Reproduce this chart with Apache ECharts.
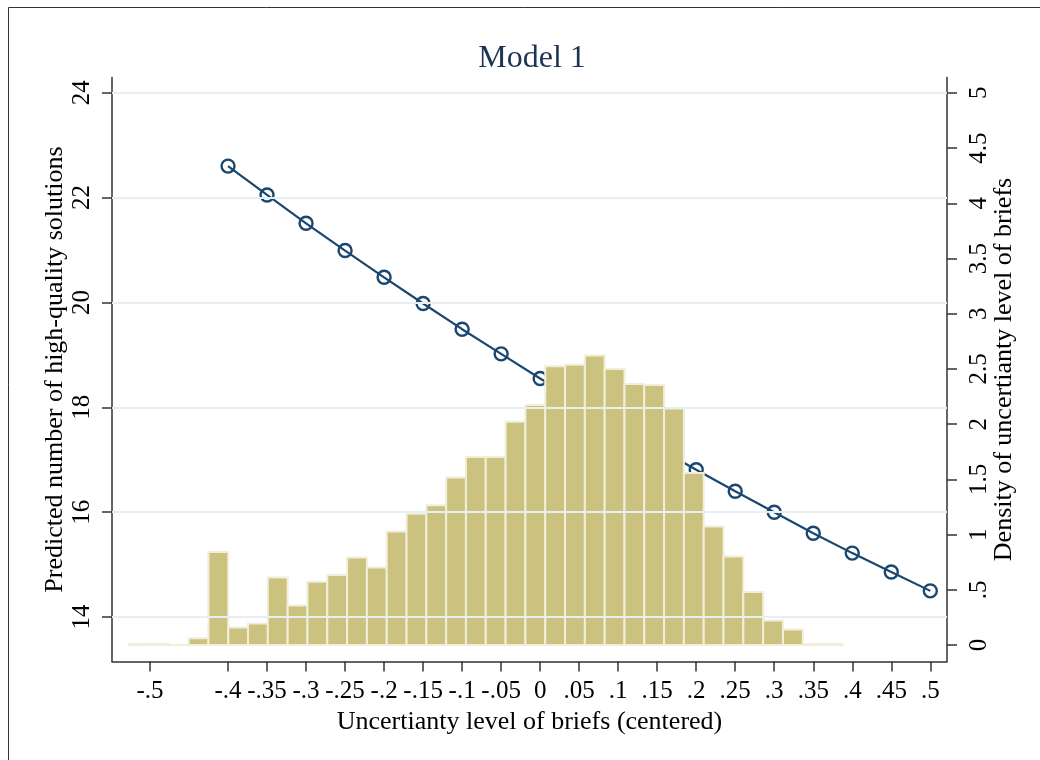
<!DOCTYPE html>
<html>
<head>
<meta charset="utf-8">
<script src="https://cdn.jsdelivr.net/npm/echarts@6/dist/echarts.min.js"></script>
<style>
  html, body { margin: 0; padding: 0; background: #fff; }
  #chart { width: 1040px; height: 760px; }
</style>
</head>
<body>
<div id="chart"></div>
<script>
// Histogram of the centered uncertainty level (density, right axis)
const binCenters = [-0.5140, -0.4886, -0.4632, -0.4378, -0.4124, -0.3870, -0.3617, -0.3363,
  -0.3109, -0.2855, -0.2601, -0.2347, -0.2093, -0.1839, -0.1585, -0.1331, -0.1078, -0.0824,
  -0.0570, -0.0316, -0.0062, 0.0192, 0.0446, 0.0700, 0.0954, 0.1208, 0.1461, 0.1715,
  0.1969, 0.2223, 0.2477, 0.2731, 0.2985, 0.3239, 0.3493, 0.3747];
const binWidth = 0.02539;
const density = [0.010, 0.012, 0, 0.063, 0.842, 0.160, 0.196, 0.612, 0.359, 0.573, 0.634,
  0.793, 0.703, 1.029, 1.189, 1.265, 1.518, 1.703, 1.703, 2.023, 2.174, 2.524, 2.539,
  2.623, 2.500, 2.364, 2.355, 2.143, 1.558, 1.074, 0.803, 0.480, 0.223, 0.141, 0.010, 0.012];

// Predicted number of high-quality solutions (left axis)
const predX = [-0.4, -0.35, -0.3, -0.25, -0.2, -0.15, -0.1, -0.05, 0, 0.05, 0.1, 0.15,
  0.2, 0.25, 0.3, 0.35, 0.4, 0.45, 0.5];
const predY = [22.60, 22.05, 21.51, 20.99, 20.48, 19.98, 19.49, 19.02, 18.55, 18.10, 17.66,
  17.23, 16.81, 16.40, 16.00, 15.60, 15.22, 14.86, 14.50];

// Tick positions
const xTicks = [-0.5, -0.4, -0.35, -0.3, -0.25, -0.2, -0.15, -0.1, -0.05, 0, 0.05, 0.1,
  0.15, 0.2, 0.25, 0.3, 0.35, 0.4, 0.45, 0.5];
const leftTicks = [14, 16, 18, 20, 22, 24];
const rightTicks = [0, 0.5, 1, 1.5, 2, 2.5, 3, 3.5, 4, 4.5, 5];

const SERIF = '"Liberation Serif", "DejaVu Serif", serif';
const AXIS = '#333333';
const NAVY = '#1a476f';

// Stata-style numbers: drop the leading zero (".25", "-.4")
function fmt(v) {
  const s = String(Number(Number(v).toFixed(3)));
  return s.replace(/^(-?)0\./, '$1.');
}

const chart = echarts.init(document.getElementById('chart'), null, { renderer: 'canvas' });

const axisLineStyle = { color: AXIS, width: 1.5 };
const tickLabel = { fontFamily: SERIF, fontSize: 25, color: '#000' };
const nameStyle = { fontFamily: SERIF, fontSize: 26, color: '#000' };

chart.setOption({
  animation: false,
  backgroundColor: '#fff',
  title: {
    text: 'Model 1',
    left: 527,
    top: 38,
    textAlign: 'center',
    textStyle: { fontFamily: SERIF, fontSize: 32, fontWeight: 'normal', color: '#1c3557' }
  },
  graphic: [{
    type: 'rect',
    shape: { x: 8.5, y: 7.5, width: 1100, height: 800 },
    style: { fill: 'none', stroke: '#333', lineWidth: 1 },
    silent: true
  }],
  grid: { left: 112, right: 93, top: 77.5, bottom: 98.5 },
  xAxis: {
    type: 'value',
    min: -0.5487,
    max: 0.5214,
    name: 'Uncertianty level of briefs (centered)',
    nameLocation: 'middle',
    nameGap: 48,
    nameMoveOverlap: false,
    nameTextStyle: nameStyle,
    axisLine: { show: true, onZero: false, lineStyle: axisLineStyle },
    axisTick: { show: true, length: 10, customValues: xTicks, lineStyle: axisLineStyle },
    axisLabel: { customValues: xTicks, formatter: fmt, margin: 17, ...tickLabel },
    splitLine: { show: false }
  },
  yAxis: [{
    type: 'value',
    position: 'left',
    min: 13.153,
    max: 24.29,
    name: 'Predicted number of high-quality solutions',
    nameLocation: 'middle',
    nameRotate: 90,
    nameGap: 44,
    nameMoveOverlap: false,
    nameTextStyle: nameStyle,
    axisLine: { show: true, onZero: false, lineStyle: axisLineStyle },
    axisTick: { show: true, length: 10, customValues: leftTicks, lineStyle: axisLineStyle },
    axisLabel: { customValues: leftTicks, formatter: fmt, rotate: 90, margin: 17, ...tickLabel },
    splitLine: { show: false }
  }, {
    type: 'value',
    position: 'right',
    min: -0.1486,
    max: 5.139,
    name: 'Density of uncertianty level of briefs',
    nameLocation: 'middle',
    nameRotate: 90,
    nameGap: 44,
    nameMoveOverlap: false,
    nameTextStyle: nameStyle,
    axisLine: { show: true, onZero: false, lineStyle: axisLineStyle },
    axisTick: { show: true, length: 10, customValues: rightTicks, lineStyle: axisLineStyle },
    axisLabel: { customValues: rightTicks, formatter: fmt, rotate: 90, margin: 20, ...tickLabel },
    splitLine: { show: false }
  }],
  series: [{
    name: 'Predicted',
    type: 'line',
    yAxisIndex: 0,
    z: 2,
    data: predX.map((x, i) => [x, predY[i]]),
    symbol: 'circle',
    symbolSize: 13,
    lineStyle: { color: NAVY, width: 2.2 },
    itemStyle: { color: 'rgba(255,255,255,0)', borderColor: NAVY, borderWidth: 2.4 },
    markLine: {
      silent: true,
      symbol: ['none', 'none'],
      label: { show: false },
      lineStyle: { color: '#e6eff1', width: 2, type: 'solid' },
      data: leftTicks.map(v => ({ yAxis: v }))
    }
  }, {
    name: 'Density',
    type: 'custom',
    yAxisIndex: 1,
    z: 3,
    data: binCenters.map((c, i) => [c, density[i]]),
    renderItem: function (params, api) {
      const c = api.value(0);
      const h = api.value(1);
      const p0 = api.coord([c - binWidth / 2, h]);
      const p1 = api.coord([c + binWidth / 2, 0]);
      return {
        type: 'rect',
        shape: { x: p0[0], y: p0[1], width: p1[0] - p0[0], height: p1[1] - p0[1] },
        style: { fill: '#cbc27f', stroke: '#f1eed9', lineWidth: 2 }
      };
    }
  }]
});
</script>
</body>
</html>
